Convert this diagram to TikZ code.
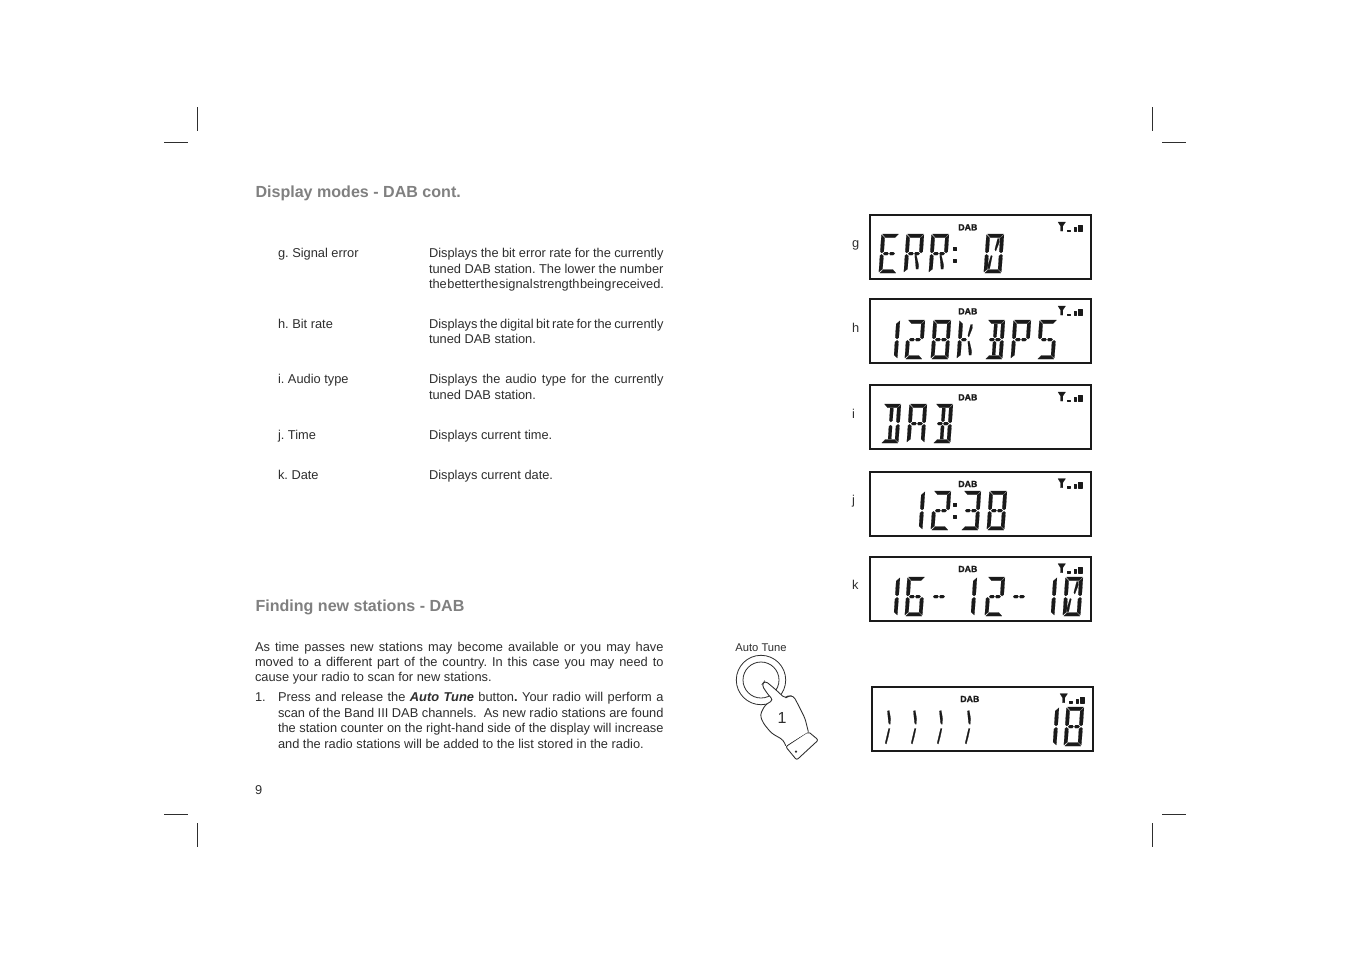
\documentclass[tikz,border=0pt]{standalone}
\usepackage{fontspec}
\setmainfont{Liberation Sans}
\newfontfamily\dabfont[FakeBold=1.5]{Liberation Sans Bold}
\definecolor{bodyc}{HTML}{2E2E2E}
\definecolor{headc}{HTML}{808080}
\definecolor{lcdc}{HTML}{1A1A1A}
\tikzset{
  txt/.style={anchor=base west,inner sep=0pt,outer sep=0pt,text=bodyc,font=\fontsize{9.62}{11}\selectfont\frenchspacing},
  headtxt/.style={anchor=base west,inner sep=0pt,outer sep=0pt,text=headc,font=\fontsize{12.05}{14}\selectfont\bfseries},
  lcdbox/.style={draw=lcdc,line width=1.5pt},
  crop/.style={draw=bodyc,line width=0.6pt},
  seg/.style={fill=lcdc,draw=lcdc,line width=0.12pt,line join=round},
  handline/.style={draw=bodyc,line width=0.65pt,fill=white}
}
\newcommand\lsega{\fill[seg] (1,0)--(17,0)--(13.8,3.5)--(4.2,3.5)--cycle;}
\newcommand\lsegb{\fill[seg] (17.5,0.8)--(17.5,17.5)--(16,19)--(14,17.5)--(14,4)--cycle;}
\newcommand\lsegc{\fill[seg] (17.5,21.5)--(17.5,38)--(14,35)--(14,22)--(16,20.3)--cycle;}
\newcommand\lsegd{\fill[seg] (1,39)--(17,39)--(13.8,35.5)--(4.2,35.5)--cycle;}
\newcommand\lsege{\fill[seg] (0,21.5)--(1.5,20.3)--(3.5,22)--(3.5,35)--(0,38)--cycle;}
\newcommand\lsegf{\fill[seg] (0,0.8)--(3.5,4)--(3.5,17.5)--(1.5,19)--(0,17.5)--cycle;}
\newcommand\lsegg{\fill[seg] (3,19.6)--(4.4,18.2)--(7.4,18.2)--(8.4,19.6)--(7.4,21)--(4.4,21)--cycle;}
\newcommand\lsegh{\fill[seg] (9.2,19.6)--(10.2,18.2)--(13.2,18.2)--(14.6,19.6)--(13.2,21)--(10.2,21)--cycle;}
\newcommand\lsegi{\fill[seg] (7,4)--(10.2,4)--(10.2,16.5)--(8.6,18)--(7,16.5)--cycle;}
\newcommand\lsegl{\fill[seg] (7,35)--(10.2,35)--(10.2,22.5)--(8.6,21)--(7,22.5)--cycle;}
\newcommand\lsegj{\fill[seg] (11.5,4.5)--(13.3,4.5)--(13.3,8.5)--(10.5,17)--(9.4,15.5)--cycle;}
\newcommand\lsegk{\fill[seg] (7.3,22)--(6,21.5)--(3.8,30.5)--(3.8,34.5)--(5.6,34.5)--cycle;}
\newcommand\lsegm{\fill[seg] (9.8,21.5)--(11.3,21)--(14.3,31)--(14.3,35)--(12,35)--cycle;}
\newcommand\lsegn{\fill[seg] (7.2,4)--(9,3.5)--(11,12)--(10.8,17.5)--(9.2,16)--cycle;}
\newcommand\lsego{\fill[seg] (9.6,21.5)--(11,21.5)--(9.8,30)--(8.4,37)--(7.2,36)--cycle;}
\newcommand\lcd[3]{\begin{scope}[shift={(#1+2.5,#2)},xslant=0.07]\foreach \s in {#3}{\csname lseg\s\endcsname}\end{scope}}
\newcommand\lcdpanel[2]{%
  \draw[lcdbox] (#1,#2) rectangle ++(221,64);
  \node[anchor=base west,inner sep=0pt,text=lcdc,font=\fontsize{6.6}{7}\dabfont] at (#1+88,#2+15.3) {DAB};
  \fill[seg] (#1+188,#2+7)--(#1+195.5,#2+7)--(#1+192.8,#2+11)--(#1+192.8,#2+16)--(#1+190.5,#2+16)--(#1+190.5,#2+11)--cycle;
  \fill[seg] (#1+197,#2+14.7) rectangle (#1+200,#2+16);
  \fill[seg] (#1+204,#2+12) rectangle (#1+206,#2+16);
  \fill[seg] (#1+208.5,#2+10) rectangle (#1+212,#2+16);
}
\newcommand\jl[4]{\node[txt] at (#1,#2) {\hbox to #3\dimexpr0.75pt\relax{\spaceskip=0.278em plus 1em minus 0.235em\relax #4}};}
\begin{document}
\begin{tikzpicture}[x=0.75pt,y=-0.75pt]
\useasboundingbox (0,0) rectangle (1351,954);
\fill[white] (0,0) rectangle (1351,954);
% crop marks
\foreach \cx/\hx in {197/164,1152/1162}{
  \draw[crop] (\cx,107)--(\cx,131);
  \draw[crop] (\cx,823)--(\cx,847);
  \draw[crop] (\hx,142)--(\hx+24,142);
  \draw[crop] (\hx,814)--(\hx+24,814);
}
% headings
\node[headtxt] (h1) at (255.5,197) {Display modes - DAB cont.};
\node[headtxt] (h2) at (255.5,611) {Finding new stations - DAB};
% table
\node[txt] (tg) at (278,257) {g. Signal error};
\jl{429}{257}{234.5}{Displays the bit error rate for the currently}
\jl{429}{273}{234.5}{tuned DAB station. The lower the number}
\jl{429}{288}{234.5}{the better the signal strength being received.}
\node[txt] (th) at (278,328) {h. Bit rate};
\jl{429}{328}{234.5}{Displays the digital bit rate for the currently}
\node[txt] at (429,343) {tuned DAB station.};
\node[txt] (ti) at (278,383) {i. Audio type};
\jl{429}{383}{234.5}{Displays the audio type for the currently}
\node[txt] at (429,399) {tuned DAB station.};
\node[txt] (tj) at (278,439) {j. Time};
\node[txt] at (429,439) {Displays current time.};
\node[txt] (tk) at (278,479) {k. Date};
\node[txt] at (429,479) {Displays current date.};
% paragraph
\jl{255}{651}{408.5}{As time passes new stations may become available or you may have}
\jl{255}{666}{408.5}{moved to a different part of the country. In this case you may need to}
\node[txt] at (255,681) {cause your radio to scan for new stations.};
\node[txt] at (255,701) {1.};
\jl{278}{701}{385.5}{Press and release the \textbf{\textit{Auto Tune}} button\textbf{.} Your radio will perform a}
\jl{278}{717}{385.5}{scan of the Band III DAB channels.\hspace{0.28em} As new radio stations are found}
\jl{278}{732}{385.5}{the station counter on the right-hand side of the display will increase}
\node[txt] at (278,748) {and the radio stations will be added to the list stored in the radio.};
\node[txt] at (255,794) {9};
% side labels
\node[txt] at (852,247.5) {g};
\node[txt] at (852,332) {h};
\node[txt] at (852,418) {i};
\node[txt] at (852,504) {j};
\node[txt] at (852,589) {k};
% panels
\lcdpanel{870}{215}
\lcdpanel{870}{299}
\lcdpanel{870}{385}
\lcdpanel{870}{471.7}
\lcdpanel{870}{556.7}
\lcdpanel{872}{686.7}
% g: ERR: 0
\lcd{879}{234}{a,d,e,f,g,h}
\lcd{904}{234}{a,b,e,f,g,h,m}
\lcd{929}{234}{a,b,e,f,g,h,m}
\fill[seg] (953.5,247.5) rectangle (956.5,250.5);
\fill[seg] (953,259) rectangle (956,262);
\lcd{984}{234}{a,b,c,d,e,f,j,k}
% h: 128KBPS
\lcd{880}{320}{b,c}
\lcd{905}{320}{a,b,g,h,e,d}
\lcd{931}{320}{a,b,c,d,e,f,g,h}
\lcd{957}{320}{e,f,g,j,m}
\lcd{985}{320}{a,b,c,d,g,h,i,l}
\lcd{1011}{320}{a,b,e,f,g,h}
\lcd{1037}{320}{a,f,g,h,c,d}
% i: DAB
\lcd{881}{404}{a,b,c,d,i,l}
\lcd{907}{404}{a,b,c,e,f,g,h}
\lcd{933}{404}{a,b,c,d,g,h,i,l}
% j: 12:38
\lcd{905}{491}{b,c}
\lcd{931}{491}{a,b,g,h,e,d}
\fill[seg] (953.5,503) rectangle (956.5,506);
\fill[seg] (953,515) rectangle (956,518);
\lcd{961}{491}{a,b,c,d,g,h}
\lcd{987}{491}{a,b,c,d,e,f,g,h}
% k: 16-- 12-- 10
\lcd{880}{577}{b,c}
\lcd{905}{577}{a,c,d,e,f,g,h}
\lcd{929}{577}{g,h}
\lcd{957}{577}{b,c}
\lcd{985}{577}{a,b,g,h,e,d}
\lcd{1009}{577}{g,h}
\lcd{1037}{577}{b,c}
\lcd{1063}{577}{a,b,c,d,e,f,j,k}
% last: scan
\lcd{878}{707}{n,o}
\lcd{904}{707}{n,o}
\lcd{930}{707}{n,o}
\lcd{958}{707}{n,o}
\lcd{1039}{707}{b,c}
\lcd{1064}{707}{a,b,c,d,e,f,g,h}
% hand
\node[anchor=base,inner sep=0pt,text=bodyc,font=\fontsize{8.4}{10}\selectfont] (at) at (761,651) {Auto Tune};
\draw[crop] (761,680) circle (24.7);
\draw[crop] (761,680) circle (18);
\begin{scope}[shift={(755,675)},x=0.25pt,y=-0.25pt]
\draw[handline,rounded corners=1.5pt] (92,215)--(125,255)--(190,195)--(160,170)--cycle;
\draw[handline,rounded corners=2.5pt] (92,212)--(85,195)--(50,175)--(25,145)--(15,120)--(30,90)--(55,75)--(40,60)--(20,30)--(30,17)--(60,42)--(90,70)--(100,63)--(115,62)--(130,90)--(150,130)--(160,170);
\draw[crop] (123,230) circle (2);
\end{scope}
\node[anchor=base,inner sep=0pt,text=bodyc,font=\fontsize{12}{13}\selectfont] (one) at (782,723.5) {1};
\end{tikzpicture}
\end{document}
